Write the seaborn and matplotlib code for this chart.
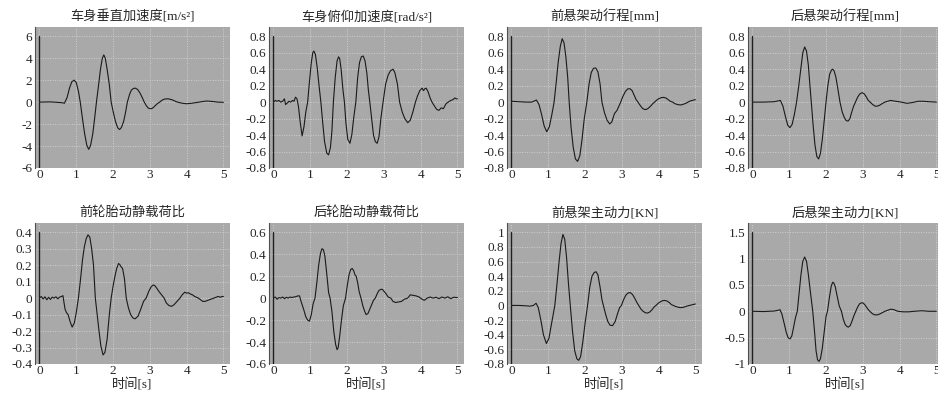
import matplotlib
matplotlib.use("Agg")
import matplotlib.pyplot as plt
import seaborn as sns
import pandas as pd

# 1. datos (tiempo en s)

titulos = ['车身垂直加速度[m/s²]', '车身俯仰加速度[rad/s²]', '前悬架动行程[mm]', '后悬架动行程[mm]',
           '前轮胎动静载荷比', '后轮胎动静载荷比', '前悬架主动力[KN]', '后悬架主动力[KN]']

t_acel_v = [0, 0.3, 0.6, 0.68, 0.75, 0.82, 0.88, 0.94, 1.0, 1.06,
            1.11, 1.17, 1.23, 1.29, 1.34, 1.39, 1.45, 1.5, 1.55, 1.61,
            1.66, 1.71, 1.75, 1.79, 1.84, 1.9, 1.95, 2.01, 2.07, 2.13,
            2.18, 2.23, 2.29, 2.34, 2.39, 2.45, 2.5, 2.56, 2.61, 2.67,
            2.73, 2.79, 2.85, 2.91, 2.96, 3.01, 3.06, 3.11, 3.17, 3.22,
            3.27, 3.33, 3.4, 3.5, 3.6, 3.68, 3.75, 3.88, 4.0, 4.15,
            4.3, 4.45, 4.55, 4.7, 4.85, 5.0]
acel_v = [0, 0.02, -0.05, -0.1, 0.4, 1.3, 1.85, 2.0, 1.8, 1.0,
          0, -1.5, -2.9, -3.95, -4.3, -3.95, -2.9, -1.5, 0, 1.6,
          3.0, 4.0, 4.3, 4.0, 3.0, 1.6, 0, -0.95, -1.8, -2.35,
          -2.5, -2.3, -1.75, -0.95, 0, 0.7, 1.1, 1.25, 1.27, 1.15,
          0.85, 0.45, 0, -0.35, -0.55, -0.6, -0.58, -0.45, -0.25, -0.1,
          0, 0.17, 0.28, 0.3, 0.22, 0.1, 0.0, -0.1, -0.15, -0.1,
          -0.02, 0.06, 0.1, 0.06, 0.0, -0.02]

t_cabeceo = [0, 0.05, 0.1, 0.15, 0.2, 0.25, 0.3, 0.33, 0.38, 0.42,
             0.47, 0.52, 0.56, 0.6, 0.64, 0.68, 0.73, 0.78, 0.83, 0.88,
             0.93, 0.98, 1.03, 1.07, 1.1, 1.14, 1.19, 1.24, 1.29, 1.34,
             1.39, 1.45, 1.5, 1.55, 1.59, 1.63, 1.68, 1.73, 1.77, 1.8,
             1.84, 1.89, 1.93, 1.97, 2.02, 2.08, 2.13, 2.18, 2.24, 2.29,
             2.34, 2.39, 2.44, 2.49, 2.54, 2.58, 2.62, 2.67, 2.72, 2.77,
             2.82, 2.87, 2.92, 2.98, 3.05, 3.12, 3.18, 3.25, 3.3, 3.37,
             3.43, 3.5, 3.57, 3.65, 3.72, 3.79, 3.86, 3.92, 3.98, 4.04,
             4.08, 4.11, 4.15, 4.2, 4.26, 4.31, 4.38, 4.44, 4.5, 4.56,
             4.62, 4.69, 4.75, 4.82, 4.88, 4.93, 4.97, 5.0]
cabeceo = [0, 0.02, 0.01, 0.02, 0.0, 0.01, 0.04, -0.03, -0.01, 0.01,
           0.0, 0.02, 0.01, 0.06, 0.04, -0.05, -0.25, -0.41, -0.3, -0.12,
           0, 0.25, 0.48, 0.6, 0.62, 0.58, 0.42, 0.2, 0, -0.25,
           -0.48, -0.62, -0.64, -0.55, -0.35, 0, 0.3, 0.5, 0.55, 0.53,
           0.4, 0.15, 0, -0.25, -0.45, -0.5, -0.4, -0.2, 0, 0.3,
           0.48, 0.55, 0.56, 0.5, 0.35, 0.15, 0, -0.2, -0.4, -0.48,
           -0.5, -0.42, -0.2, 0, 0.22, 0.33, 0.38, 0.4, 0.36, 0.22,
           0, -0.12, -0.2, -0.25, -0.22, -0.12, 0, 0.08, 0.14, 0.17,
           0.14, 0.16, 0.17, 0.13, 0.05, 0, -0.05, -0.09, -0.1, -0.07,
           -0.08, -0.02, 0.0, 0.02, 0.03, 0.05, 0.04, 0.04]

t_susp_del = [0, 0.2, 0.4, 0.55, 0.68, 0.75, 0.82, 0.89, 0.96, 1.03,
              1.1, 1.16, 1.22, 1.27, 1.33, 1.38, 1.43, 1.48, 1.53, 1.57,
              1.62, 1.68, 1.74, 1.8, 1.86, 1.92, 1.98, 2.05, 2.11, 2.17,
              2.23, 2.29, 2.35, 2.41, 2.46, 2.53, 2.6, 2.67, 2.73, 2.8,
              2.87, 2.92, 2.97, 3.03, 3.1, 3.16, 3.22, 3.28, 3.34, 3.39,
              3.44, 3.5, 3.56, 3.62, 3.67, 3.72, 3.78, 3.84, 3.89, 3.95,
              4.02, 4.08, 4.14, 4.2, 4.26, 4.32, 4.38, 4.45, 4.52, 4.6,
              4.68, 4.76, 4.84, 4.91, 5.0]
susp_del = [0.01, 0.005, 0.0, 0.0, 0.025, -0.03, -0.15, -0.29, -0.36, -0.3,
            -0.15, 0, 0.25, 0.48, 0.68, 0.77, 0.72, 0.55, 0.3, 0.0,
            -0.3, -0.55, -0.69, -0.72, -0.65, -0.45, -0.2, 0, 0.22, 0.36,
            0.41, 0.415, 0.37, 0.22, 0.0, -0.13, -0.22, -0.265, -0.24, -0.14,
            -0.1, -0.05, 0, 0.07, 0.13, 0.16, 0.163, 0.14, 0.08, 0.03,
            0.0, -0.04, -0.075, -0.09, -0.088, -0.075, -0.05, -0.02, 0.0, 0.025,
            0.045, 0.055, 0.057, 0.05, 0.03, 0.01, 0.0, -0.02, -0.03, -0.035,
            -0.025, -0.01, 0.01, 0.02, 0.03]

t_susp_tra = [0, 0.3, 0.6, 0.7, 0.76, 0.83, 0.9, 0.96, 1.02, 1.08,
              1.14, 1.2, 1.26, 1.32, 1.37, 1.42, 1.47, 1.52, 1.56, 1.6,
              1.65, 1.7, 1.75, 1.8, 1.85, 1.9, 1.95, 2.0, 2.05, 2.1,
              2.15, 2.18, 2.22, 2.27, 2.33, 2.38, 2.44, 2.5, 2.55, 2.6,
              2.65, 2.7, 2.75, 2.8, 2.86, 2.92, 2.98, 3.04, 3.1, 3.15,
              3.2, 3.27, 3.33, 3.38, 3.45, 3.52, 3.6, 3.75, 3.9, 4.05,
              4.2, 4.35, 4.5, 4.65, 4.8, 5.0]
susp_tra = [0, 0.0, 0.005, 0.015, 0.02, -0.05, -0.18, -0.28, -0.31, -0.27,
            -0.15, 0, 0.2, 0.42, 0.6, 0.67, 0.62, 0.45, 0.22, 0.0,
            -0.28, -0.52, -0.66, -0.69, -0.62, -0.45, -0.23, 0, 0.2, 0.34,
            0.39, 0.4, 0.38, 0.3, 0.14, 0.0, -0.12, -0.19, -0.225, -0.23,
            -0.2, -0.12, -0.05, 0.0, 0.06, 0.1, 0.115, 0.1, 0.06, 0.02,
            0.0, -0.03, -0.048, -0.05, -0.04, -0.02, 0.0, 0.02, 0.01, 0.0,
            -0.015, -0.005, 0.01, 0.01, 0.005, 0.0]

t_rueda_del = [0, 0.05, 0.1, 0.15, 0.2, 0.25, 0.3, 0.35, 0.4, 0.45,
               0.5, 0.55, 0.6, 0.64, 0.67, 0.7, 0.74, 0.78, 0.83, 0.89,
               0.95, 1.0, 1.06, 1.12, 1.17, 1.22, 1.27, 1.32, 1.37, 1.42,
               1.47, 1.52, 1.57, 1.62, 1.67, 1.73, 1.78, 1.84, 1.9, 1.95,
               2.0, 2.05, 2.1, 2.15, 2.18, 2.22, 2.26, 2.31, 2.36, 2.42,
               2.48, 2.54, 2.6, 2.68, 2.75, 2.83, 2.9, 2.97, 3.04, 3.1,
               3.14, 3.19, 3.25, 3.32, 3.39, 3.45, 3.52, 3.59, 3.66, 3.74,
               3.82, 3.88, 3.95, 4.0, 4.05, 4.1, 4.16, 4.22, 4.27, 4.32,
               4.38, 4.44, 4.5, 4.56, 4.62, 4.68, 4.74, 4.8, 4.86, 4.92,
               4.96, 5.0]
rueda_del = [0.0, 0.01, -0.005, 0.008, -0.01, 0.005, -0.008, 0.006, 0.0, 0.008,
             -0.004, 0.006, 0.01, 0.015, -0.03, -0.07, -0.09, -0.1, -0.14, -0.176,
             -0.15, -0.09, 0.0, 0.12, 0.23, 0.31, 0.36, 0.384, 0.37, 0.3,
             0.2, 0.0, -0.1, -0.2, -0.29, -0.345, -0.33, -0.25, -0.1, 0.0,
             0.07, 0.13, 0.18, 0.21, 0.205, 0.19, 0.18, 0.12, 0.0, -0.06,
             -0.1, -0.12, -0.126, -0.11, -0.07, -0.02, 0.0, 0.04, 0.07, 0.08,
             0.075, 0.06, 0.04, 0.02, 0.0, -0.03, -0.045, -0.05, -0.04, -0.02,
             0.0, 0.02, 0.036, 0.03, 0.033, 0.025, 0.02, 0.01, 0.005, 0.0,
             -0.01, -0.02, -0.02, -0.015, -0.01, -0.005, 0.0, 0.005, 0.01, 0.005,
             0.01, 0.01]

t_rueda_tra = [0, 0.05, 0.1, 0.15, 0.2, 0.25, 0.3, 0.35, 0.4, 0.45,
               0.5, 0.55, 0.6, 0.66, 0.71, 0.76, 0.82, 0.88, 0.93, 0.98,
               1.03, 1.08, 1.13, 1.18, 1.23, 1.28, 1.32, 1.36, 1.4, 1.45,
               1.5, 1.54, 1.59, 1.64, 1.69, 1.73, 1.76, 1.8, 1.85, 1.9,
               1.96, 2.01, 2.06, 2.1, 2.14, 2.18, 2.22, 2.25, 2.29, 2.33,
               2.38, 2.43, 2.48, 2.52, 2.57, 2.62, 2.67, 2.72, 2.77, 2.82,
               2.87, 2.92, 2.96, 3.01, 3.06, 3.12, 3.19, 3.25, 3.32, 3.4,
               3.48, 3.56, 3.65, 3.72, 3.8, 3.88, 3.96, 4.04, 4.1, 4.18,
               4.26, 4.34, 4.42, 4.5, 4.58, 4.66, 4.74, 4.82, 4.9, 5.0]
rueda_tra = [0.0, 0.01, -0.01, 0.005, 0.0, 0.01, -0.005, 0.008, 0.0, 0.01,
             0.005, 0.01, 0.012, 0.02, 0.02, -0.04, -0.1, -0.17, -0.2, -0.21,
             -0.15, -0.05, 0.0, 0.14, 0.3, 0.41, 0.45, 0.44, 0.38, 0.22,
             0.05, 0.0, -0.12, -0.3, -0.42, -0.47, -0.45, -0.35, -0.2, -0.07,
             0.0, 0.12, 0.22, 0.26, 0.27, 0.25, 0.21, 0.2, 0.14, 0.06,
             0.0, -0.07, -0.12, -0.15, -0.14, -0.1, -0.06, -0.02, 0.0, 0.04,
             0.07, 0.08, 0.08, 0.06, 0.04, 0.01, 0.0, -0.03, -0.04, -0.035,
             -0.03, -0.01, 0.0, 0.03, 0.025, 0.02, 0.01, -0.01, -0.02, 0.0,
             0.01, 0.0, 0.008, -0.005, 0.01, 0.0, 0.012, -0.005, 0.008, 0.005]

t_fuerza_del = [0, 0.2, 0.4, 0.5, 0.6, 0.67, 0.73, 0.8, 0.87, 0.95,
                1.02, 1.09, 1.18, 1.24, 1.3, 1.35, 1.4, 1.45, 1.5, 1.55,
                1.6, 1.66, 1.72, 1.78, 1.83, 1.88, 1.94, 2.0, 2.07, 2.13,
                2.19, 2.25, 2.3, 2.35, 2.41, 2.46, 2.5, 2.56, 2.62, 2.68,
                2.75, 2.82, 2.88, 2.94, 2.99, 3.05, 3.11, 3.17, 3.23, 3.29,
                3.35, 3.41, 3.46, 3.52, 3.58, 3.64, 3.7, 3.76, 3.82, 3.88,
                3.93, 3.99, 4.05, 4.11, 4.17, 4.23, 4.29, 4.35, 4.4, 4.47,
                4.54, 4.6, 4.68, 4.76, 4.84, 4.92, 5.0]
fuerza_del = [0.0, 0.0, -0.005, -0.01, 0.0, 0.03, -0.03, -0.2, -0.4, -0.52,
              -0.45, -0.25, 0.0, 0.3, 0.62, 0.85, 0.97, 0.9, 0.65, 0.3,
              0.0, -0.35, -0.62, -0.73, -0.75, -0.7, -0.5, -0.25, 0.0, 0.25,
              0.4, 0.45, 0.46, 0.42, 0.25, 0.08, 0.0, -0.12, -0.22, -0.27,
              -0.276, -0.22, -0.12, -0.03, 0.0, 0.08, 0.14, 0.17, 0.176, 0.15,
              0.1, 0.04, 0.0, -0.05, -0.08, -0.1, -0.104, -0.09, -0.06, -0.02,
              0.0, 0.03, 0.05, 0.065, 0.068, 0.06, 0.04, 0.01, 0.0, -0.015,
              -0.025, -0.03, -0.025, -0.01, 0.0, 0.01, 0.02]

t_fuerza_tra = [0, 0.3, 0.6, 0.7, 0.75, 0.8, 0.86, 0.92, 0.97, 1.02,
                1.07, 1.12, 1.17, 1.22, 1.27, 1.32, 1.37, 1.42, 1.47, 1.52,
                1.57, 1.64, 1.69, 1.73, 1.77, 1.81, 1.85, 1.9, 1.95, 2.0,
                2.04, 2.09, 2.14, 2.18, 2.21, 2.25, 2.3, 2.36, 2.42, 2.47,
                2.52, 2.57, 2.61, 2.66, 2.71, 2.76, 2.81, 2.86, 2.91, 2.96,
                3.0, 3.05, 3.1, 3.15, 3.19, 3.25, 3.31, 3.38, 3.45, 3.52,
                3.6, 3.68, 3.76, 3.85, 3.95, 4.1, 4.25, 4.4, 4.6, 4.8,
                5.0]
fuerza_tra = [0.0, -0.005, 0.005, 0.02, 0.03, -0.05, -0.22, -0.4, -0.5, -0.525,
              -0.47, -0.3, -0.12, 0.0, 0.35, 0.7, 0.95, 1.03, 0.95, 0.7,
              0.4, 0.0, -0.4, -0.75, -0.92, -0.95, -0.9, -0.7, -0.4, -0.1,
              0.0, 0.25, 0.47, 0.55, 0.54, 0.47, 0.3, 0.1, 0.0, -0.15,
              -0.25, -0.29, -0.3, -0.27, -0.18, -0.08, 0.0, 0.08, 0.14, 0.16,
              0.16, 0.13, 0.08, 0.03, 0.0, -0.04, -0.065, -0.07, -0.055, -0.03,
              0.0, 0.02, 0.04, 0.03, 0.0, -0.01, -0.01, 0.0, 0.01, 0.0,
              0.0]

series = [(t_acel_v, acel_v), (t_cabeceo, cabeceo), (t_susp_del, susp_del), (t_susp_tra, susp_tra),
          (t_rueda_del, rueda_del), (t_rueda_tra, rueda_tra), (t_fuerza_del, fuerza_del), (t_fuerza_tra, fuerza_tra)]

# ticks del eje y de cada grafico
yticks = [[-6, -4, -2, 0, 2, 4, 6],
          [-0.8, -0.6, -0.4, -0.2, 0, 0.2, 0.4, 0.6, 0.8],
          [-0.8, -0.6, -0.4, -0.2, 0, 0.2, 0.4, 0.6, 0.8],
          [-0.8, -0.6, -0.4, -0.2, 0, 0.2, 0.4, 0.6, 0.8],
          [-0.4, -0.3, -0.2, -0.1, 0, 0.1, 0.2, 0.3, 0.4],
          [-0.6, -0.4, -0.2, 0, 0.2, 0.4, 0.6],
          [-0.8, -0.6, -0.4, -0.2, 0, 0.2, 0.4, 0.6, 0.8, 1],
          [-1, -0.5, 0, 0.5, 1, 1.5]]
xticks = [0, 1, 2, 3, 4, 5]

# 2. estilo
sns.set_theme(style="white")
plt.rcParams['font.family'] = ['Liberation Serif', 'Noto Sans CJK SC']
plt.rcParams['axes.unicode_minus'] = False

fondo = '#a9a9a9'
fig = plt.figure(figsize=(9.38, 3.99), dpi=100)

W, H = 938.0, 399.0
lefts = [35, 269, 507, 748]
tops = [27, 223]
ancho, alto = 195, 141

for i, (tt, vv) in enumerate(series):
    fila, col = divmod(i, 4)
    ax = fig.add_axes([lefts[col] / W, 1 - (tops[fila] + alto) / H, ancho / W, alto / H])
    ax.set_facecolor(fondo)
    df = pd.DataFrame({'t': tt, 'v': vv})
    sns.lineplot(data=df, x='t', y='v', ax=ax, color='#1a1a1a', linewidth=0.8)

    yt = yticks[i]
    ymin, ymax = yt[0], yt[-1]
    tope = ymax + 0.07 * (ymax - ymin)
    ax.set_ylim(ymin, tope)
    ax.set_xlim(-0.12, 5.18)
    ax.set_yticks(yt)
    ax.set_yticklabels(['%g' % v for v in yt])
    ax.set_xticks(xticks)
    ax.set_xticklabels([str(v) for v in xticks])

    ax.grid(True, linestyle=(0, (1, 1.5)), color='#cfcfcf', linewidth=0.7)
    ax.set_axisbelow(True)
    # linea vertical del eje en t=0
    ax.axvline(0, ymin=0, ymax=(ymax - ymin) / (tope - ymin), color='#202020', linewidth=1.0)

    for lado in ['top', 'right', 'bottom']:
        ax.spines[lado].set_visible(False)
    ax.spines['left'].set_color('#505050')
    ax.spines['left'].set_linewidth(0.8)
    ax.tick_params(axis='y', which='major', labelsize=9.5, length=0, pad=2)
    ax.tick_params(axis='x', which='major', labelsize=9.5, length=2, direction='in',
                   color='#404040', pad=1)

    ax.set_title(titulos[i], fontsize=9.5, pad=5)
    if fila == 1:
        ax.set_xlabel('时间[s]', fontsize=9.5, labelpad=1)
    else:
        ax.set_xlabel('')
    ax.set_ylabel('')

fig.savefig('out.png', dpi=100)
